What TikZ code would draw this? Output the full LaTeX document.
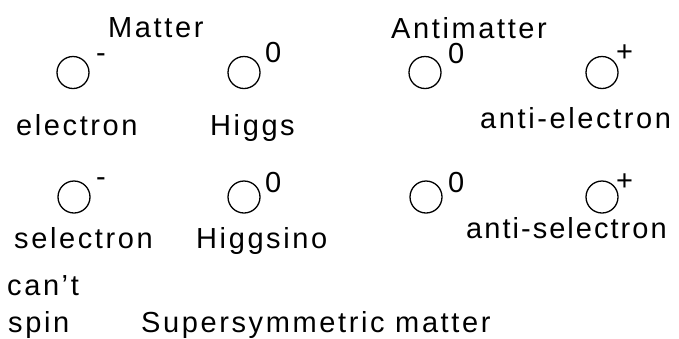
\documentclass[tikz,border=0pt]{standalone}
\usepackage{fontspec}
\setmainfont[LetterSpace=9]{Liberation Sans}
\newfontfamily\tightfont[LetterSpace=7]{Liberation Sans}
\begin{document}
\begin{tikzpicture}[x=1pt,y=-1pt,
  lbl/.style={inner sep=0pt,anchor=base west,font=\fontsize{29pt}{34pt}\selectfont},
  sup/.style={lbl,text height=21pt,text depth=0pt},
  part/.style={circle,draw,line width=1.3pt,minimum size=32pt,inner sep=0pt}]
\useasboundingbox (0,0) rectangle (679,338);
% headings
\node[lbl] (matter) at (108,37) {Matter};
\node[lbl,text depth=0pt] (anti) at (391,38) {Antimatter};
% row 1
\node[part] (c1) at (73,72.5) {};
\node[part] (c2) at (244,72.5) {};
\node[part] (c3) at (425,72.5) {};
\node[part] (c4) at (602,72.5) {};
\node[sup] (s1) at (96,62) {-};
\node[sup] (s2) at (265,62) {0};
\node[sup] (s3) at (448,63) {0};
\node[sup] (s4) at (616,61) {+};
\node[lbl] (electron) at (16,135) {electron};
\node[lbl] (higgs) at (210,135) {Higgs};
\node[lbl] (antielectron) at (480,128) {anti-electron};
% row 2
\node[part] (c5) at (74,197) {};
\node[part] (c6) at (244,197) {};
\node[part] (c7) at (426,197) {};
\node[part] (c8) at (602,197) {};
\node[sup] (s5) at (96,186) {-};
\node[sup] (s6) at (265,192) {0};
\node[sup] (s7) at (448,192) {0};
\node[sup] (s8) at (616,190) {+};
\node[lbl] (selectron) at (14,248) {selectron};
\node[lbl] (higgsino) at (196,248) {Higgsino};
\node[lbl,font=\fontsize{29pt}{34pt}\tightfont] (antiselectron) at (466,238) {anti-selectron};
% bottom
\node[lbl] (cant) at (7,295) {can’t};
\node[lbl] (spin) at (8,332) {spin};
\node[lbl] (susy) at (141,332) {Supersymmetric matter};
\end{tikzpicture}
\end{document}
